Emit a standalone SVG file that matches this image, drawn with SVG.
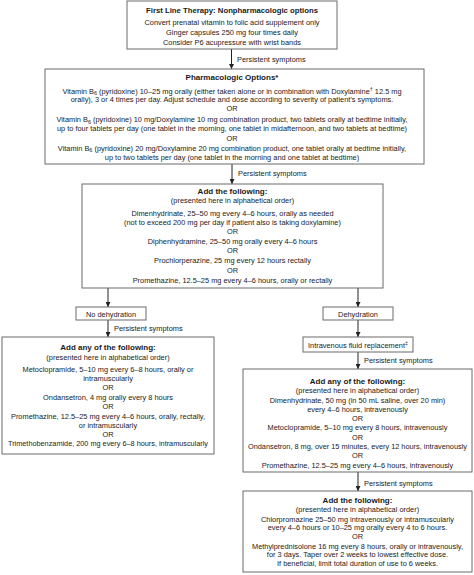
<svg xmlns="http://www.w3.org/2000/svg" width="474" height="575" viewBox="0 0 474 575">
<defs>
<style>
.box{fill:#fff;stroke:#6b6b6b;stroke-width:1}
text{font-family:"Liberation Sans",Arial,sans-serif;font-size:7.4px;fill:#1a1a1a;text-anchor:middle}
.b{font-weight:bold;font-size:8px}
.lbl{text-anchor:start}
.con{stroke:#222;stroke-width:1;fill:none;marker-end:url(#ah)}
.sub{font-size:5.5px}
</style>
<marker id="ah" viewBox="0 0 6 6" refX="6" refY="3" markerWidth="5" markerHeight="5" orient="auto" markerUnits="userSpaceOnUse">
<path d="M0,0 L6,3 L0,6 z" fill="#222"/>
</marker>
</defs>
<rect width="474" height="575" fill="#fff"/>

<g id="connectors">
<line class="con" x1="231.5" y1="49" x2="231.5" y2="69"/>
<text class="lbl" x="237" y="62">Persistent symptoms</text>
<line class="con" x1="232" y1="164" x2="232" y2="184"/>
<text class="lbl" x="238" y="176">Persistent symptoms</text>
<line class="con" x1="108" y1="288" x2="108" y2="307"/>
<line class="con" x1="358" y1="288" x2="358" y2="307"/>
<line class="con" x1="108" y1="320" x2="108" y2="337"/>
<text class="lbl" x="114" y="331">Persistent symptoms</text>
<line class="con" x1="358" y1="320" x2="358" y2="337"/>
<line class="con" x1="358" y1="352" x2="358" y2="369"/>
<text class="lbl" x="364" y="363">Persistent symptoms</text>
<line class="con" x1="358" y1="472" x2="358" y2="491"/>
<text class="lbl" x="364" y="486">Persistent symptoms</text>
</g>

<g id="first-line">
<rect class="box" x="127" y="1" width="210" height="48"/>
<text class="b" x="232" y="13" textLength="172" lengthAdjust="spacingAndGlyphs">First Line Therapy: Nonpharmacologic options</text>
<text x="232" y="25">Convert prenatal vitamin to folic acid supplement only</text>
<text x="232" y="34.5">Ginger capsules 250 mg four times daily</text>
<text x="232" y="44.5">Consider P6 acupressure with wrist bands</text>
</g>

<g id="pharmacologic">
<rect class="box" x="45" y="69" width="379" height="95"/>
<text class="b" x="232" y="80">Pharmacologic Options*</text>
<text x="232" y="93.5">Vitamin B<tspan class="sub" dy="1.5">6</tspan><tspan dy="-1.5"> (pyridoxine) 10–25 mg orally (either taken alone or in combination with Doxylamine</tspan><tspan class="sub" dy="-3">†</tspan><tspan dy="3"> 12.5 mg</tspan></text>
<text x="232" y="102">orally), 3 or 4 times per day. Adjust schedule and dose according to severity of patient’s symptoms.</text>
<text x="232" y="111">OR</text>
<text x="232" y="122">Vitamin B<tspan class="sub" dy="1.5">6</tspan><tspan dy="-1.5"> (pyridoxine) 10 mg/Doxylamine 10 mg combination product, two tablets orally at bedtime initially,</tspan></text>
<text x="232" y="130.5">up to four tablets per day (one tablet in the morning, one tablet in midafternoon, and two tablets at bedtime)</text>
<text x="232" y="140.5">OR</text>
<text x="232" y="150.5">Vitamin B<tspan class="sub" dy="1.5">6</tspan><tspan dy="-1.5"> (pyridoxine) 20 mg/Doxylamine 20 mg combination product, one tablet orally at bedtime initially,</tspan></text>
<text x="232" y="159.5">up to two tablets per day (one tablet in the morning and one tablet at bedtime)</text>
</g>

<g id="add-following-1">
<rect class="box" x="82" y="184" width="301" height="104"/>
<text class="b" x="232.5" y="194">Add the following:</text>
<text x="232.5" y="203">(presented here in alphabetical order)</text>
<text x="232.5" y="216">Dimenhydrinate, 25–50 mg every 4–6 hours, orally as needed</text>
<text x="232.5" y="225">(not to exceed 200 mg per day if patient also is taking doxylamine)</text>
<text x="232.5" y="234">OR</text>
<text x="232.5" y="244">Diphenhydramine, 25–50 mg orally every 4–6 hours</text>
<text x="232.5" y="253">OR</text>
<text x="232.5" y="263">Prochlorperazine, 25 mg every 12 hours rectally</text>
<text x="232.5" y="273">OR</text>
<text x="232.5" y="283">Promethazine, 12.5–25 mg every 4–6 hours, orally or rectally</text>
</g>

<g id="no-dehydration">
<rect class="box" x="76" y="307" width="70" height="13"/>
<text x="111" y="316.5">No dehydration</text>
</g>

<g id="dehydration">
<rect class="box" x="323" y="307" width="70" height="13"/>
<text x="358" y="316.5">Dehydration</text>
</g>

<g id="iv-fluid">
<rect class="box" x="303" y="337" width="110" height="15"/>
<text x="358" y="347.5">Intravenous fluid replacement<tspan class="sub" dy="-3">‡</tspan></text>
</g>

<g id="add-any-oral">
<rect class="box" x="2" y="337" width="212" height="117"/>
<text class="b" x="108" y="350">Add any of the following:</text>
<text x="108" y="360">(presented here in alphabetical order)</text>
<text x="108" y="372">Metoclopramide, 5–10 mg every 6–8 hours, orally or</text>
<text x="108" y="381">intramuscularly</text>
<text x="108" y="390">OR</text>
<text x="108" y="400">Ondansetron, 4 mg orally every 8 hours</text>
<text x="108" y="409">OR</text>
<text x="108" y="419">Promethazine, 12.5–25 mg every 4–6 hours, orally, rectally,</text>
<text x="108" y="428">or intramuscularly</text>
<text x="108" y="437">OR</text>
<text x="108" y="446" textLength="200" lengthAdjust="spacingAndGlyphs">Trimethobenzamide, 200 mg every 6–8 hours, intramuscularly</text>
</g>

<g id="add-any-iv">
<rect class="box" x="243" y="369" width="229" height="103"/>
<text class="b" x="357.5" y="384">Add any of the following:</text>
<text x="357.5" y="393">(presented here in alphabetical order)</text>
<text x="357.5" y="403">Dimenhydrinate, 50 mg (in 50 mL saline, over 20 min)</text>
<text x="357.5" y="412">every 4–6 hours, intravenously</text>
<text x="357.5" y="421">OR</text>
<text x="357.5" y="430">Metoclopramide, 5–10 mg every 8 hours, intravenously</text>
<text x="357.5" y="440">OR</text>
<text x="357.5" y="449" textLength="219" lengthAdjust="spacingAndGlyphs">Ondansetron, 8 mg, over 15 minutes, every 12 hours, intravenously</text>
<text x="357.5" y="458">OR</text>
<text x="357.5" y="468">Promethazine, 12.5–25 mg every 4–6 hours, intravenously</text>
</g>

<g id="add-following-2">
<rect class="box" x="243" y="491" width="229" height="81"/>
<text class="b" x="357.5" y="503">Add the following:</text>
<text x="357.5" y="511.5">(presented here in alphabetical order)</text>
<text x="357.5" y="521.5">Chlorpromazine 25–50 mg intravenously or intramuscularly</text>
<text x="357.5" y="530">every 4–6 hours or 10–25 mg orally every 4 to 6 hours.</text>
<text x="357.5" y="538.5">OR</text>
<text x="357.5" y="548.5">Methylprednisolone 16 mg every 8 hours, orally or intravenously,</text>
<text x="357.5" y="557">for 3 days. Taper over 2 weeks to lowest effective dose.</text>
<text x="357.5" y="565.5">If beneficial, limit total duration of use to 6 weeks.</text>
</g>
</svg>
